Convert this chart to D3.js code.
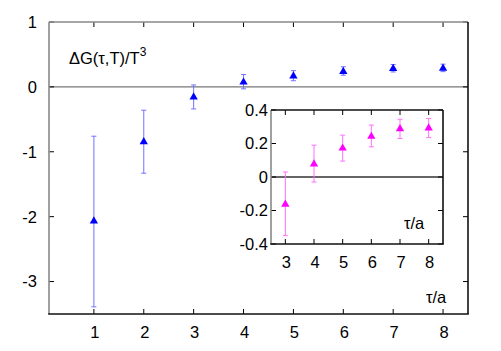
<!DOCTYPE html>
<html>
<head>
<meta charset="utf-8">
<script src="https://cdn.jsdelivr.net/npm/d3@7"></script>
<style>
body { margin: 0; background: #fff; }
text { font-family: "Liberation Sans", Arial, sans-serif; font-size: 16.5px; fill: #000; }
</style>
</head>
<body>
<svg width="501" height="351"></svg>
<script>
// main plot: tau/a vs Delta G / T^3
var tau = [1, 2, 3, 4, 5, 6, 7, 8]
var dG = [-2.06, -0.84, -0.15, 0.08, 0.175, 0.245, 0.29, 0.295]
var dGlo = [-3.39, -1.33, -0.34, -0.03, 0.095, 0.18, 0.23, 0.235]
var dGhi = [-0.76, -0.36, 0.03, 0.19, 0.25, 0.31, 0.345, 0.35]
var yTicks = [1, 0, -1, -2, -3]

// inset: tau/a = 3..8 zoomed
var tauIn = [3, 4, 5, 6, 7, 8]
var dGIn = [-0.16, 0.08, 0.175, 0.245, 0.29, 0.295]
var dGInLo = [-0.35, -0.03, 0.095, 0.18, 0.23, 0.235]
var dGInHi = [0.03, 0.19, 0.25, 0.31, 0.345, 0.35]
var yTicksIn = [0.4, 0.2, 0, -0.2, -0.4]
var yLabelsIn = ['0.4', '0.2', '0', '-0.2', '-0.4']

var svg = d3.select('svg')
var tri = d3.symbol().type(d3.symbolTriangle).size(30)

function drawPanel(g, o) {
  var x = d3.scaleLinear().domain(o.xdom).range([o.left, o.right])
  var y = d3.scaleLinear().domain(o.ydom).range([o.bottom, o.top])

  g.append('rect')
    .attr('x', o.left).attr('y', o.top)
    .attr('width', o.right - o.left).attr('height', o.bottom - o.top)
    .attr('fill', '#fff')

  // zero line
  g.append('line')
    .attr('x1', o.left).attr('x2', o.right)
    .attr('y1', y(0)).attr('y2', y(0))
    .attr('stroke', o.zeroColor).attr('stroke-width', 1.3)

  // ticks, mirrored on all sides, pointing inward
  o.xticks.forEach(function(t) {
    g.append('line').attr('x1', x(t)).attr('x2', x(t))
      .attr('y1', o.bottom).attr('y2', o.bottom - 5).attr('stroke', '#000')
    g.append('line').attr('x1', x(t)).attr('x2', x(t))
      .attr('y1', o.top).attr('y2', o.top + 5).attr('stroke', '#000')
    g.append('text').attr('x', x(t) + 1).attr('y', o.bottom + o.xlabOff)
      .attr('text-anchor', 'middle').text(t)
  })
  o.yticks.forEach(function(t, i) {
    g.append('line').attr('x1', o.left).attr('x2', o.left + 5)
      .attr('y1', y(t)).attr('y2', y(t)).attr('stroke', '#000')
    g.append('line').attr('x1', o.right).attr('x2', o.right - 5)
      .attr('y1', y(t)).attr('y2', y(t)).attr('stroke', '#000')
    g.append('text').attr('x', o.left - o.ylabOff).attr('y', y(t))
      .attr('dy', '0.36em').attr('text-anchor', 'end').text(o.ylabels[i])
  })

  // error bars
  var eb = g.selectAll('.eb').data(o.xs).enter().append('g')
  eb.append('line')
    .attr('x1', d => x(d)).attr('x2', d => x(d))
    .attr('y1', (d, i) => y(o.lo[i])).attr('y2', (d, i) => y(o.hi[i]))
    .attr('stroke', o.errColor).attr('stroke-width', 1)
  eb.append('line')
    .attr('x1', d => x(d) - 2.5).attr('x2', d => x(d) + 2.5)
    .attr('y1', (d, i) => y(o.lo[i])).attr('y2', (d, i) => y(o.lo[i]))
    .attr('stroke', o.errColor).attr('stroke-width', 1)
  eb.append('line')
    .attr('x1', d => x(d) - 2.5).attr('x2', d => x(d) + 2.5)
    .attr('y1', (d, i) => y(o.hi[i])).attr('y2', (d, i) => y(o.hi[i]))
    .attr('stroke', o.errColor).attr('stroke-width', 1)

  g.selectAll('.pt').data(o.xs).enter().append('path')
    .attr('d', tri)
    .attr('transform', (d, i) => 'translate(' + x(d) + ',' + (y(o.ys[i]) + 0.5) + ')')
    .attr('fill', o.color)

  // border: left/top gray, bottom/right black
  g.append('line').attr('x1', o.left).attr('x2', o.left)
    .attr('y1', o.top).attr('y2', o.bottom).attr('stroke', '#888').attr('stroke-width', 1.6)
  g.append('line').attr('x1', o.left).attr('x2', o.right)
    .attr('y1', o.top).attr('y2', o.top).attr('stroke', o.topColor).attr('stroke-width', 1.6)
  g.append('line').attr('x1', o.left - 0.8).attr('x2', o.right + 0.8)
    .attr('y1', o.bottom).attr('y2', o.bottom).attr('stroke', '#111').attr('stroke-width', 1.6)
  g.append('line').attr('x1', o.right).attr('x2', o.right)
    .attr('y1', o.top).attr('y2', o.bottom).attr('stroke', '#111').attr('stroke-width', 1.6)
}

var main = svg.append('g')
drawPanel(main, {
  left: 49, right: 468, top: 22, bottom: 314,
  xdom: [0.1, 8.5], ydom: [-3.5, 1],
  xs: tau, ys: dG, lo: dGlo, hi: dGhi,
  xticks: tau, yticks: yTicks, ylabels: yTicks,
  xlabOff: 24, ylabOff: 12,
  color: '#0000ff', errColor: '#7272ff', zeroColor: '#777', topColor: '#888'
})

var lab = main.append('text').attr('x', 69).attr('y', 64)
lab.append('tspan').text('\u0394G(\u03c4,T)/T')
lab.append('tspan').attr('dy', -8).attr('font-size', '12px').text('3')
main.append('text').attr('x', 426).attr('y', 303).text('\u03c4/a')

var inset = svg.append('g')
drawPanel(inset, {
  left: 271, right: 443, top: 110, bottom: 244,
  xdom: [2.5, 8.5], ydom: [-0.4, 0.4],
  xs: tauIn, ys: dGIn, lo: dGInLo, hi: dGInHi,
  xticks: tauIn, yticks: yTicksIn, ylabels: yLabelsIn,
  xlabOff: 24, ylabOff: 3,
  color: '#ff00ff', errColor: '#ff70ff', zeroColor: '#333', topColor: '#111'
})
inset.append('text').attr('x', 404).attr('y', 229).text('\u03c4/a')
</script>
</body>
</html>
